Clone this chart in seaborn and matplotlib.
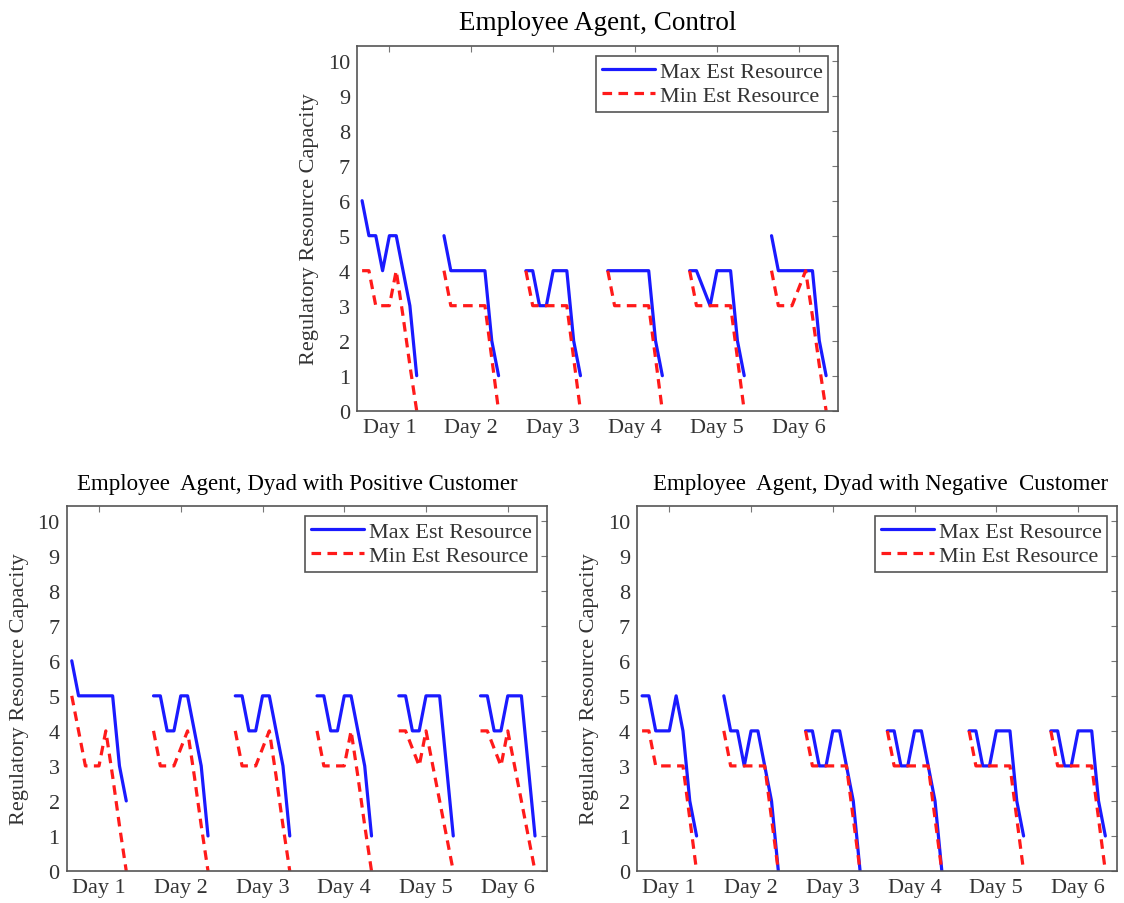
import matplotlib
matplotlib.use("Agg")
import matplotlib.pyplot as plt
from matplotlib.lines import Line2D
import seaborn as sns
import pandas as pd

# hours of the waking day sampled every 2 h, 6 simulated days
step_hours = [0, 2, 4, 6, 8, 10, 12, 14, 16]
day_labels = ["Day 1", "Day 2", "Day 3", "Day 4", "Day 5", "Day 6"]
y_ticks = [0, 1, 2, 3, 4, 5, 6, 7, 8, 9, 10]

#control
ctrl_max = [
    [6, 5, 5, 4, 5, 5, 4, 3, 1],
    [5, 4, 4, 4, 4, 4, 4, 2, 1],
    [4, 4, 3, 3, 4, 4, 4, 2, 1],
    [4, 4, 4, 4, 4, 4, 4, 2, 1],
    [4, 4, 3.5, 3, 4, 4, 4, 2, 1],
    [5, 4, 4, 4, 4, 4, 4, 2, 1],
]
ctrl_min = [
    [4, 4, 3, 3, 3, 4, 2.7, 1.3, 0],
    [4, 3, 3, 3, 3, 3, 3, 1.5, 0],
    [4, 3, 3, 3, 3, 3, 3, 1.5, 0],
    [4, 3, 3, 3, 3, 3, 3, 1.5, 0],
    [4, 3, 3, 3, 3, 3, 3, 1.5, 0],
    [4, 3, 3, 3, 3.5, 4, 2.7, 1.3, 0],
]

#positive customer
pos_max = [
    [6, 5, 5, 5, 5, 5, 5, 3, 2],
    [5, 5, 4, 4, 5, 5, 4, 3, 1],
    [5, 5, 4, 4, 5, 5, 4, 3, 1],
    [5, 5, 4, 4, 5, 5, 4, 3, 1],
    [5, 5, 4, 4, 5, 5, 5, 3, 1],
    [5, 5, 4, 4, 5, 5, 5, 3, 1],
]
pos_min = [
    [5, 4, 3, 3, 3, 4, 2.7, 1.3, 0],
    [4, 3, 3, 3, 3.5, 4, 2.7, 1.3, 0],
    [4, 3, 3, 3, 3.5, 4, 2.7, 1.3, 0],
    [4, 3, 3, 3, 3, 4, 2.7, 1.3, 0],
    [4, 4, 3.5, 3, 4, 3, 2, 1, 0],
    [4, 4, 3.5, 3, 4, 3, 2, 1, 0],
]

#negative customer
neg_max = [
    [5, 5, 4, 4, 4, 5, 4, 2, 1],
    [5, 4, 4, 3, 4, 4, 3, 2, 0],
    [4, 4, 3, 3, 4, 4, 3, 2, 0],
    [4, 4, 3, 3, 4, 4, 3, 2, 0],
    [4, 4, 3, 3, 4, 4, 4, 2, 1],
    [4, 4, 3, 3, 4, 4, 4, 2, 1],
]
neg_min = [
    [4, 4, 3, 3, 3, 3, 3, 1.5, 0],
    [4, 3, 3, 3, 3, 3, 3, 1.5, 0],
    [4, 3, 3, 3, 3, 3, 3, 1.5, 0],
    [4, 3, 3, 3, 3, 3, 3, 1.5, 0],
    [4, 3, 3, 3, 3, 3, 3, 1.5, 0],
    [4, 3, 3, 3, 3, 3, 3, 1.5, 0],
]

sns.set_theme(style="white")
plt.rcParams["font.family"] = ["Liberation Serif", "DejaVu Serif"]

MAX_LBL = "Max Est Resource"
MIN_LBL = "Min Est Resource"
colors = {MAX_LBL: "#1a1aff", MIN_LBL: "#ff1a1a"}
dashes = {MAX_LBL: "", MIN_LBL: (3, 2)}
text_col = "#333333"
edge_col = "#555555"


def make_frame(max_vals, min_vals):
    rows = []
    for d in range(len(day_labels)):
        for i, h in enumerate(step_hours):
            rows.append({"day": d, "hour": 24 * d + h, "value": max_vals[d][i], "series": MAX_LBL})
        for i, h in enumerate(step_hours):
            rows.append({"day": d, "hour": 24 * d + h, "value": min_vals[d][i], "series": MIN_LBL})
    return pd.DataFrame(rows)


def draw(ax, title, max_vals, min_vals, title_size, title_x):
    df = make_frame(max_vals, min_vals)
    sns.lineplot(
        data=df,
        x="hour",
        y="value",
        hue="series",
        style="series",
        units="day",
        estimator=None,
        palette=colors,
        dashes=dashes,
        linewidth=2.3,
        legend=False,
        ax=ax
    )
    ax.set_xlim(-1.5, 139.5)
    ax.set_ylim(0, 10.42)
    ax.set_xticks([24 * d + 8 for d in range(len(day_labels))])
    ax.set_xticklabels(day_labels)
    ax.set_yticks(y_ticks)
    ax.tick_params(direction="in", top=True, right=True, length=4, width=0.8,
                   color="#777777", labelcolor=text_col, labelsize=16, pad=5)
    for sp in ax.spines.values():
        sp.set_color(edge_col)
        sp.set_linewidth(1.2)
    ax.set_xlabel("")
    ax.set_ylabel("Regulatory Resource Capacity", fontsize=16, color=text_col, labelpad=6)
    ax.set_title(title, fontsize=title_size, pad=12, color="black", x=title_x)
    handles = [
        Line2D([], [], color=colors[MAX_LBL], lw=2.3),
        Line2D([], [], color=colors[MIN_LBL], lw=2.3, ls=(0, (3, 2))),
    ]
    leg = ax.legend(handles, [MAX_LBL, MIN_LBL], loc="upper right", fontsize=16,
                    frameon=True, fancybox=False, framealpha=1, edgecolor=edge_col,
                    borderaxespad=0.45, borderpad=0.25, labelspacing=0.15,
                    handlelength=2.4, handletextpad=0.2)
    leg.get_frame().set_linewidth(1.2)
    for t in leg.get_texts():
        t.set_color(text_col)


fig = plt.figure(figsize=(11.24, 9.04), dpi=100)
ax_top = fig.add_axes([0.3176, 0.5446, 0.428, 0.4034])
ax_pos = fig.add_axes([0.0593, 0.0354, 0.4273, 0.4038])
ax_neg = fig.add_axes([0.5667, 0.0354, 0.4273, 0.4038])

draw(ax_top, "Employee Agent, Control", ctrl_max, ctrl_min, 19.5, 0.5)
draw(ax_pos, "Employee  Agent, Dyad with Positive Customer", pos_max, pos_min, 16.5, 0.48)
draw(ax_neg, "Employee  Agent, Dyad with Negative  Customer", neg_max, neg_min, 16.5, 0.508)

fig.savefig("out.png", dpi=100)
